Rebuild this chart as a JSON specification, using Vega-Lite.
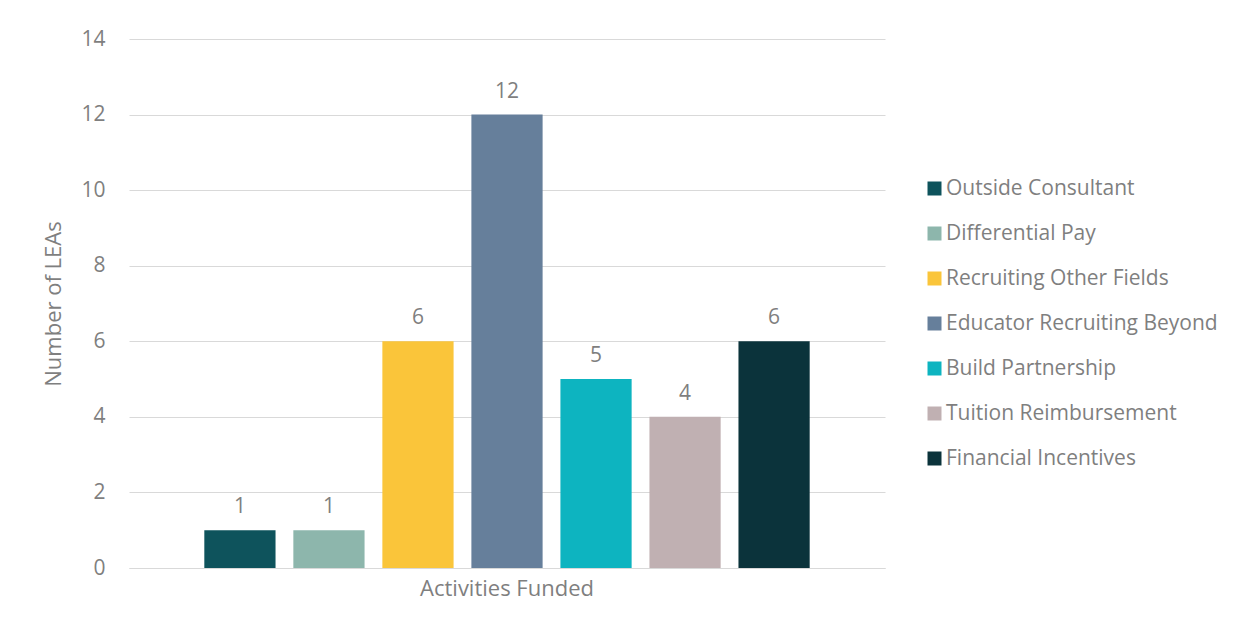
{
  "$schema": "https://vega.github.io/schema/vega-lite/v6.json",
  "width": 756,
  "height": 529,
  "autosize": "none",
  "padding": {"left": 129, "top": 39, "right": 352, "bottom": 64},
  "background": "white",
  "config": {
    "font": "Open Sans",
    "view": {"stroke": null},
    "axis": {"labelColor": "#7f7f7f", "titleColor": "#7f7f7f", "labelFont": "Open Sans", "titleFont": "Open Sans", "labelFontWeight": "normal", "titleFontWeight": "normal"},
    "legend": {"labelColor": "#7f7f7f", "labelFont": "Open Sans"}
  },
  "data": {
    "values": [
      {"group": "Activities Funded", "activity": "Outside Consultant", "value": 1},
      {"group": "Activities Funded", "activity": "Differential Pay", "value": 1},
      {"group": "Activities Funded", "activity": "Recruiting Other Fields", "value": 6},
      {"group": "Activities Funded", "activity": "Educator Recruiting Beyond", "value": 12},
      {"group": "Activities Funded", "activity": "Build Partnership", "value": 5},
      {"group": "Activities Funded", "activity": "Tuition Reimbursement", "value": 4},
      {"group": "Activities Funded", "activity": "Financial Incentives", "value": 6}
    ]
  },
  "encoding": {
    "x": {
      "field": "group", "type": "nominal",
      "scale": {"paddingInner": 0, "paddingOuter": 0},
      "axis": {"title": null, "labelAngle": 0, "domain": true, "domainColor": "#d9d9d9", "domainWidth": 1, "ticks": false, "labelPadding": 10, "labelFontSize": 22, "labelLimit": 400}
    },
    "xOffset": {
      "field": "activity", "type": "nominal",
      "sort": ["Outside Consultant", "Differential Pay", "Recruiting Other Fields", "Educator Recruiting Beyond", "Build Partnership", "Tuition Reimbursement", "Financial Incentives"],
      "scale": {"paddingInner": 0.2, "paddingOuter": 0.846}
    },
    "y": {
      "field": "value", "type": "quantitative",
      "scale": {"domain": [0, 14], "nice": false},
      "axis": {"title": "Number of LEAs", "values": [0, 2, 4, 6, 8, 10, 12, 14], "domain": false, "ticks": false, "tickSize": 0, "labelPadding": 24, "labelFontSize": 21, "titleFontSize": 22, "titlePadding": 15, "gridColor": "#d9d9d9", "gridWidth": 1}
    }
  },
  "layer": [
    {
      "mark": {"type": "bar"},
      "encoding": {
        "color": {
          "field": "activity", "type": "nominal",
          "sort": ["Outside Consultant", "Differential Pay", "Recruiting Other Fields", "Educator Recruiting Beyond", "Build Partnership", "Tuition Reimbursement", "Financial Incentives"],
          "scale": {
            "domain": ["Outside Consultant", "Differential Pay", "Recruiting Other Fields", "Educator Recruiting Beyond", "Build Partnership", "Tuition Reimbursement", "Financial Incentives"],
            "range": ["#0E535C", "#8DB6AC", "#FAC53A", "#667F9B", "#0DB4C0", "#C0B0B2", "#0B333B"]
          },
          "legend": {
            "title": null, "orient": "none", "legendX": 795, "legendY": 139,
            "symbolType": "square", "symbolSize": 196, "symbolStrokeWidth": 0,
            "labelFontSize": 21, "labelOffset": 1, "labelLimit": 400, "rowPadding": 23, "padding": 0
          }
        }
      }
    },
    {
      "mark": {"type": "text", "baseline": "alphabetic", "dy": -17, "fontSize": 21, "color": "#7f7f7f", "font": "Open Sans"},
      "encoding": {"text": {"field": "value", "type": "quantitative"}}
    }
  ]
}
